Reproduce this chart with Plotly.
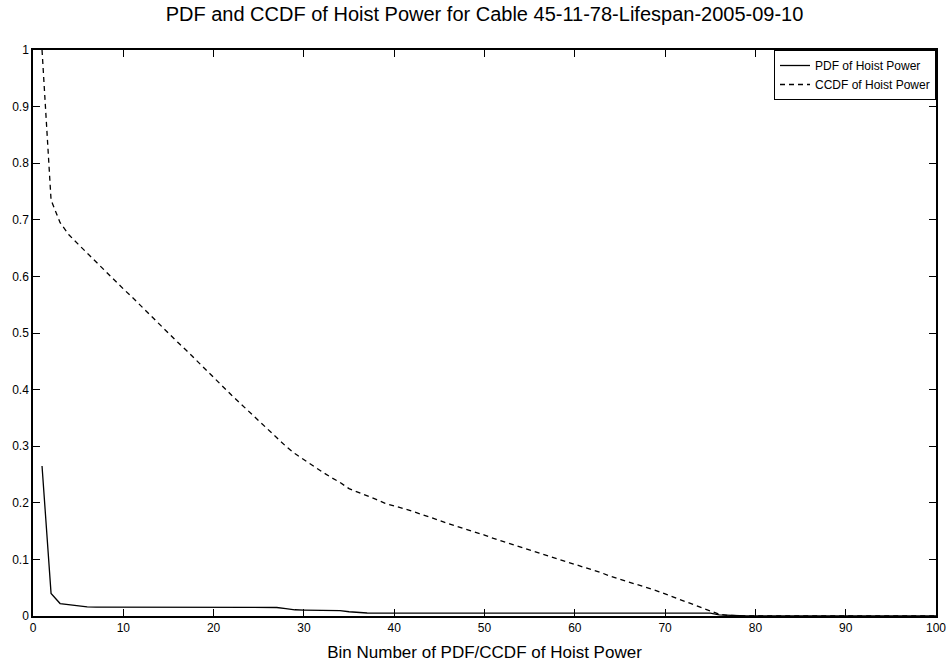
import plotly.graph_objects as go

bins = list(range(1, 101))

pdf_vals = [0.265, 0.040, 0.022, 0.020, 0.017, 0.016, 0.0158, 0.0157, 0.0156, 0.0156,
            0.0157, 0.0158, 0.0157, 0.0156, 0.0156, 0.0157, 0.0157, 0.0156, 0.0156, 0.0156,
            0.0157, 0.0157, 0.0156, 0.0155, 0.0155, 0.0154, 0.0150, 0.013, 0.011, 0.0105,
            0.010, 0.0098, 0.0096, 0.0094, 0.0075, 0.006, 0.0053, 0.005, 0.005, 0.005,
            0.005, 0.005, 0.005, 0.005, 0.005, 0.005, 0.005, 0.005, 0.005, 0.005,
            0.005, 0.005, 0.005, 0.005, 0.005, 0.0052, 0.0055, 0.0055, 0.0055, 0.0055,
            0.0055, 0.0055, 0.0055, 0.0055, 0.0055, 0.0055, 0.0058, 0.006, 0.0062, 0.0063,
            0.0063, 0.0063, 0.0062, 0.006, 0.005, 0.002, 0.001, 0, 0, 0,
            0, 0, 0, 0, 0, 0, 0, 0, 0, 0,
            0, 0, 0, 0, 0, 0, 0, 0, 0, 0]

ccdf_vals = [1.000, 0.735, 0.695, 0.673, 0.657, 0.641, 0.625, 0.609, 0.593, 0.578,
             0.563, 0.547, 0.531, 0.516, 0.500, 0.484, 0.469, 0.453, 0.437, 0.422,
             0.406, 0.390, 0.375, 0.360, 0.345, 0.330, 0.315, 0.300, 0.287, 0.276,
             0.265, 0.255, 0.245, 0.236, 0.225, 0.219, 0.213, 0.206, 0.199, 0.195,
             0.190, 0.185, 0.180, 0.175, 0.169, 0.163, 0.158, 0.154, 0.149, 0.143,
             0.137, 0.132, 0.126, 0.121, 0.116, 0.111, 0.106, 0.101, 0.096, 0.091,
             0.086, 0.081, 0.076, 0.070, 0.065, 0.060, 0.055, 0.051, 0.045, 0.039,
             0.033, 0.027, 0.021, 0.014, 0.008, 0.003, 0.001, 0, 0, 0,
             0, 0, 0, 0, 0, 0, 0, 0, 0, 0,
             0, 0, 0, 0, 0, 0, 0, 0, 0, 0]

x_ticks = [0, 10, 20, 30, 40, 50, 60, 70, 80, 90, 100]
x_tick_labels = ["0", "10", "20", "30", "40", "50", "60", "70", "80", "90", "100"]
y_ticks = [0, 0.1, 0.2, 0.3, 0.4, 0.5, 0.6, 0.7, 0.8, 0.9, 1]
y_tick_labels = ["0", "0.1", "0.2", "0.3", "0.4", "0.5", "0.6", "0.7", "0.8", "0.9", "1"]

font_family = "Liberation Sans, Arial, Helvetica, sans-serif"

fig = go.Figure()
fig.add_trace(go.Scatter(x=bins, y=pdf_vals, mode="lines", name="PDF of Hoist Power",
                         line=dict(color="black", width=1.3)))
fig.add_trace(go.Scatter(x=bins, y=ccdf_vals, mode="lines", name="CCDF of Hoist Power",
                         line=dict(color="black", width=1.3, dash="5px,4px")))

fig.update_layout(
    width=947, height=667,
    margin=dict(l=33, r=11, t=50, b=51),
    paper_bgcolor="white", plot_bgcolor="white",
    font=dict(family=font_family, color="black", size=12),
    title=dict(text="PDF and CCDF of Hoist Power for Cable 45-11-78-Lifespan-2005-09-10",
               x=0.5, xref="paper", xanchor="center",
               y=0.979, yref="container", yanchor="middle",
               font=dict(size=20, family=font_family, color="black")),
    showlegend=True,
    legend=dict(x=1, y=1, xanchor="right", yanchor="top",
                bgcolor="white", bordercolor="black", borderwidth=1,
                font=dict(size=12, family=font_family, color="black"),
                tracegroupgap=0, itemwidth=30),
    xaxis=dict(range=[0, 100], tickmode="array", tickvals=x_ticks, ticktext=x_tick_labels,
               ticks="inside", ticklen=7, tickwidth=1, tickcolor="black",
               showline=True, linecolor="black", linewidth=1.5, mirror="allticks",
               showgrid=False, zeroline=False, automargin=False,
               title=dict(text="Bin Number of PDF/CCDF of Hoist Power",
                          font=dict(size=17, family=font_family, color="black"), standoff=12),
               tickfont=dict(size=12)),
    yaxis=dict(range=[0, 1], tickmode="array", tickvals=y_ticks, ticktext=y_tick_labels,
               ticks="inside", ticklen=7, tickwidth=1, tickcolor="black",
               showline=True, linecolor="black", linewidth=1.5, mirror="allticks",
               showgrid=False, zeroline=False, automargin=False, tickfont=dict(size=12)),
)

fig.write_html("out.html")
